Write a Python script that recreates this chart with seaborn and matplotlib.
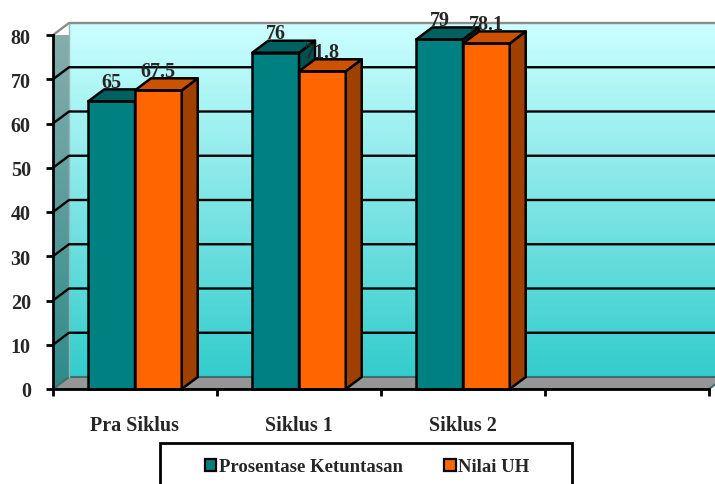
import numpy as np
import pandas as pd
import matplotlib
matplotlib.use("Agg")
import matplotlib.pyplot as plt
from matplotlib.patches import Polygon, Rectangle, Patch
from matplotlib.colors import LinearSegmentedColormap
import seaborn as sns

# ---- data ----
categories = ["Pra Siklus", "Siklus 1", "Siklus 2"]
series = ["Prosentase Ketuntasan", "Nilai UH"]
ketuntasan = [65, 76, 79]
nilai_uh = [67.5, 71.8, 78.1]
y_ticks = [0, 10, 20, 30, 40, 50, 60, 70, 80]

# ---- style ----
front_colors = ["#008080", "#FF6600"]
top_colors = ["#006060", "#CC5200"]
side_colors = ["#004F4F", "#A04000"]
FS = 14.5
LEG_FS = 13.5
EDGE = 1.8

sns.set_theme(style="white")
plt.rcParams["font.family"] = ["Liberation Serif", "DejaVu Serif"]
plt.rcParams["font.weight"] = "bold"

df = pd.DataFrame({
    "Siklus": categories * 2,
    "Nilai": ketuntasan + nilai_uh,
    "Seri": [series[0]] * len(categories) + [series[1]] * len(categories),
})

fig = plt.figure(figsize=(7.15, 4.85), dpi=100)
ax = fig.add_axes([53 / 715, 95 / 485, 656 / 715, 354 / 485])
ax.set_facecolor("none")

sns.barplot(data=df, x="Siklus", y="Nilai", hue="Seri", order=categories,
            hue_order=series, palette=front_colors, saturation=1,
            width=0.57, edgecolor="black", linewidth=EDGE, legend=False, ax=ax)
bars = list(ax.patches)

XMIN, XMAX = -0.5, 3.5
YMIN, YMAX = 0, 80
ax.set_xlim(XMIN, XMAX)
ax.set_ylim(YMIN, YMAX)

# depth of the pseudo-3D walls/bars, expressed in data units
DX = 16 / (656 / (XMAX - XMIN))
DY = 12 / (354 / (YMAX - YMIN))

# back wall with vertical gradient
wall_cmap = LinearSegmentedColormap.from_list("wall", ["#33CCCC", "#CCFFFF"])
grad = np.linspace(0, 1, 256).reshape(-1, 1)
ax.imshow(grad, extent=(XMIN + DX, XMAX + DX, YMIN + DY, YMAX + DY),
          origin="lower", aspect="auto", cmap=wall_cmap, zorder=0,
          clip_on=False, interpolation="bilinear")

# left side wall
side_cmap = LinearSegmentedColormap.from_list("side", ["#2E8B8B", "#8AAEAE"])
side_poly = Polygon([(XMIN, YMIN), (XMIN + DX, YMIN + DY),
                     (XMIN + DX, YMAX + DY), (XMIN, YMAX)],
                    closed=True, facecolor="none", edgecolor="none",
                    transform=ax.transData)
ax.add_patch(side_poly)
side_im = ax.imshow(grad, extent=(XMIN, XMIN + DX, YMIN, YMAX + DY),
                    origin="lower", aspect="auto", cmap=side_cmap, zorder=0,
                    interpolation="bilinear")
side_im.set_clip_path(side_poly)
side_im.set_clip_box(None)

# floor
ax.add_patch(Polygon([(XMIN, YMIN), (XMAX, YMIN), (XMAX + DX, YMIN + DY),
                      (XMIN + DX, YMIN + DY)], closed=True,
                     facecolor="#969696", edgecolor="#3F6F6F", lw=1.5,
                     zorder=0.5, clip_on=False))

# gridlines across the side wall and back wall
for v in y_ticks[1:]:
    col = "#8C8C8C" if v == YMAX else "black"
    ax.plot([XMIN, XMIN + DX, XMAX + DX], [v, v + DY, v + DY], color=col,
            lw=1.7, zorder=0.8, clip_on=False, solid_capstyle="butt")
ax.plot([XMIN + DX, XMIN + DX], [YMIN + DY, YMAX + DY], color="#9AB5B5",
        lw=1.0, zorder=0.7, clip_on=False)

# top and side faces of each bar, plus value labels
n = len(categories)
for i, p in enumerate(bars):
    s = i // n
    x0, w, h = p.get_x(), p.get_width(), p.get_height()
    z = 3 + s
    p.set_zorder(z)
    p.set_clip_on(False)
    top = Polygon([(x0, h), (x0 + w, h), (x0 + w + DX, h + DY), (x0 + DX, h + DY)],
                  closed=True, facecolor=top_colors[s], edgecolor="black",
                  lw=EDGE, zorder=z, clip_on=False, joinstyle="round")
    side = Polygon([(x0 + w, YMIN), (x0 + w + DX, YMIN + DY), (x0 + w + DX, h + DY),
                    (x0 + w, h)], closed=True, facecolor=side_colors[s],
                   edgecolor="black", lw=EDGE, zorder=z, clip_on=False,
                   joinstyle="round")
    ax.add_patch(side)
    ax.add_patch(top)
    ax.text(x0 + w / 2, h + DY - 0.6, f"{h:g}", ha="center", va="bottom",
            fontsize=FS, fontweight="bold", zorder=8, clip_on=False)

# axes lines and ticks
for side_name in ["top", "right"]:
    ax.spines[side_name].set_visible(False)
for side_name in ["left", "bottom"]:
    ax.spines[side_name].set_visible(True)
    ax.spines[side_name].set_color("black")
    ax.spines[side_name].set_linewidth(2)
    ax.spines[side_name].set_zorder(6)

ax.set_yticks(y_ticks)
ax.set_yticklabels([str(t) for t in y_ticks])
ax.tick_params(axis="y", left=True, direction="out", length=5, width=2,
               color="black", labelsize=FS, pad=11)

ax.set_xticks(np.arange(XMIN, XMAX + 0.01, 1.0))
ax.set_xticklabels([])
ax.set_xticks(range(n), labels=categories, minor=True)
ax.tick_params(axis="x", which="major", bottom=True, direction="out",
               length=5, width=2, color="black")
ax.tick_params(axis="x", which="minor", bottom=True, length=0,
               labelsize=FS, pad=19)
ax.set_xlabel("")
ax.set_ylabel("")
for lbl in ax.get_xticklabels(minor=True) + ax.get_yticklabels():
    lbl.set_fontweight("bold")

# legend
handles = [Patch(facecolor=c, edgecolor="black", lw=1.6) for c in front_colors]
fig.legend(handles, series, loc="center left",
           bbox_to_anchor=(205 / 715, 1 - 468 / 485), frameon=False, ncol=2,
           borderpad=0, borderaxespad=0, handlelength=0.6,
           handleheight=0.65, handletextpad=0.15, columnspacing=2.2,
           prop={"weight": "bold", "size": LEG_FS})
fig.add_artist(Rectangle((160 / 715, -10 / 485), (572 - 160) / 715,
                         (485 - 444 + 10) / 485, transform=fig.transFigure,
                         fill=False, edgecolor="black", lw=2))

fig.savefig("out.png", dpi=100)
